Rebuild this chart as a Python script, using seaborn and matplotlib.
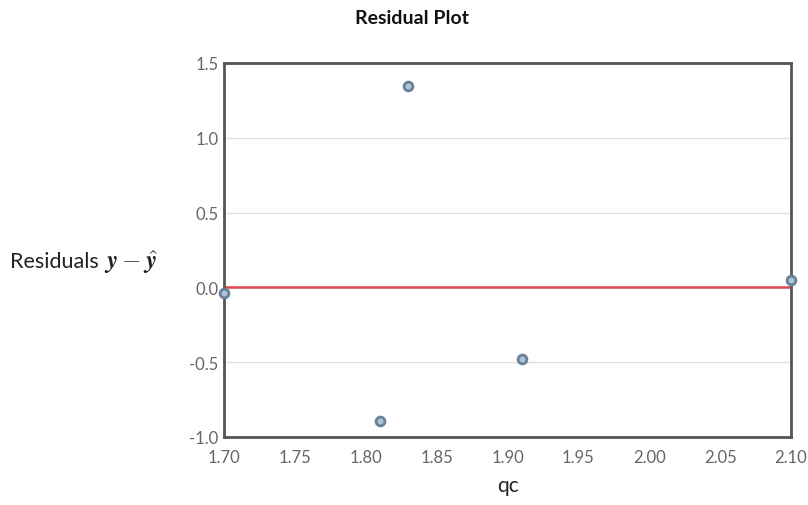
import matplotlib
matplotlib.use("Agg")
import matplotlib.pyplot as plt
import seaborn as sns
import pandas as pd

qc = [1.70, 1.81, 1.83, 1.91, 2.10]
residuals = [-0.04, -0.89, 1.345, -0.48, 0.05]
x_ticks = [1.70, 1.75, 1.80, 1.85, 1.90, 1.95, 2.00, 2.05, 2.10]
y_ticks = [-1.0, -0.5, 0.0, 0.5, 1.0, 1.5]

sns.set_theme(style="white")
plt.rcParams['font.family'] = ['Lato', 'DejaVu Sans']
plt.rcParams['mathtext.fontset'] = 'cm'

df = pd.DataFrame({"qc": qc, "res": residuals})

fig = plt.figure(figsize=(8.08, 5.06), dpi=100)
ax = fig.add_axes([224/808, 1-438/506, (791-224)/808, (438-64)/506])

for yt in y_ticks:
    ax.axhline(yt, color="#dddddd", lw=0.9, zorder=0)
ax.axhline(0, color="#e0474c", lw=1.8, zorder=2)

sns.scatterplot(data=df, x="qc", y="res", ax=ax, s=40, color="#aac5d8",
                edgecolor="#6a7f95", linewidth=2, zorder=3, clip_on=False)

ax.set_xlim(1.70, 2.10)
ax.set_ylim(-1.0, 1.5)
ax.set_xticks(x_ticks)
ax.set_xticklabels([f"{v:.2f}" for v in x_ticks])
ax.set_yticks(y_ticks)
ax.set_yticklabels([f"{v:.1f}" for v in y_ticks])
ax.tick_params(axis="both", colors="#666666", labelsize=12, length=0)
ax.tick_params(axis="x", pad=9)
ax.tick_params(axis="y", pad=4)
for sp in ax.spines.values():
    sp.set_color("#555555")
    sp.set_linewidth(2)
ax.set_xlabel("qc", fontsize=15, color="#222222", labelpad=7)
ax.set_ylabel("")
fig.text(10/808, 1-262/506, "Residuals", fontsize=15.5,
         color="#222222", ha="left", va="center")
fig.text(104/808, 1-262/506, r"$\boldsymbol{y} - \hat{\boldsymbol{y}}$", fontsize=18,
         color="#222222", ha="left", va="center")
fig.text(412/808, 1-18/506, "Residual Plot", fontsize=14, fontweight="bold",
         color="#111111", ha="center", va="center")

fig.savefig("out.png", dpi=100)
